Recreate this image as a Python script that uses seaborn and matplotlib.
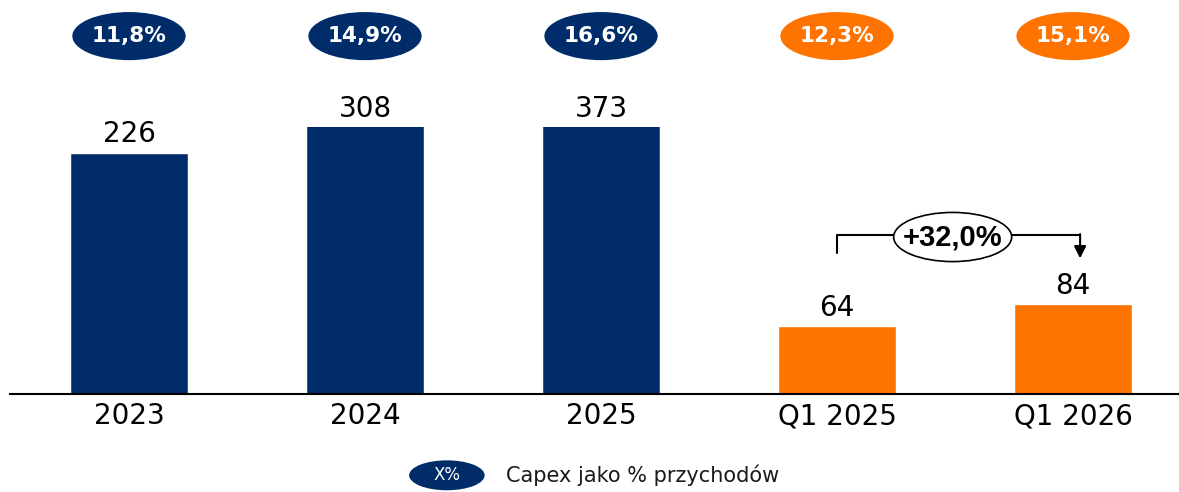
import matplotlib
matplotlib.use("Agg")
import matplotlib.pyplot as plt
import seaborn as sns
import pandas as pd
from matplotlib.patches import Ellipse

# Données
categories = ["2023", "2024", "2025", "Q1 2025", "Q1 2026"]
capex = [226, 308, 373, 64, 84]
capex_pct = ["11,8%", "14,9%", "16,6%", "12,3%", "15,1%"]
growth_label = "+32,0%"
legend_label = "Capex jako % przychodów"

navy = "#002D6A"
orange = "#FF7300"
colors = [navy, navy, navy, orange, orange]

df = pd.DataFrame({"Okres": categories, "Capex": capex})

sns.set_style("white")
plt.rcParams["font.family"] = ["DejaVu Sans"]
plt.rcParams["text.color"] = "black"
plt.rcParams["xtick.color"] = "black"

fig = plt.figure(figsize=(11.79, 4.92), dpi=100)
ax = fig.add_axes([0.0085, 0.199, 0.9915, 0.543])

sns.barplot(data=df, x="Okres", y="Capex", hue="Okres", palette=colors,
            legend=False, width=0.5, saturation=1, ax=ax)

y_cap = 250
ax.set_ylim(0, y_cap)
ax.set_xlim(-0.504, 4.449)

for s in ["top", "right", "left"]:
    ax.spines[s].set_visible(False)
ax.spines["bottom"].set_color("black")
ax.spines["bottom"].set_linewidth(1.5)
ax.set_yticks([])
ax.set_xlabel("")
ax.set_ylabel("")
ax.tick_params(axis="x", length=0, labelsize=20, pad=6, labelcolor="black")

# Etiquettes de valeur + ellipses en haut
for i, (v, p) in enumerate(zip(capex, capex_pct)):
    ax.text(i, min(v, y_cap) + 17, str(v), ha="center", va="center",
            fontsize=20, color="black", clip_on=False)
    ax.add_patch(Ellipse((i, 335), 0.48, 45, facecolor=colors[i],
                         edgecolor="none", clip_on=False))
    ax.text(i, 335, p, ha="center", va="center", fontsize=15.5,
            fontweight="bold", color="white", clip_on=False)

# Flèche de croissance Q1
ax.plot([3, 3, 3.8], [132, 149, 149], color="black", lw=1.5, clip_on=False)
ax.annotate("", xy=(4.03, 127), xytext=(4.03, 149.7),
            arrowprops=dict(arrowstyle="-|>", color="black", lw=1.5,
                            mutation_scale=18, shrinkA=0, shrinkB=0),
            annotation_clip=False)
ax.plot([3.8, 4.03], [149, 149], color="black", lw=1.5, clip_on=False)
ax.add_patch(Ellipse((3.49, 147), 0.5, 46, facecolor="white",
                     edgecolor="black", lw=1.2, clip_on=False, zorder=5))
ax.text(3.49, 147, growth_label, ha="center", va="center", fontsize=21,
        fontweight="bold", family="Liberation Sans", color="black",
        zorder=6, clip_on=False)

# Légende
ax.add_patch(Ellipse((1.347, -76), 0.32, 28, facecolor=navy,
                     edgecolor="none", clip_on=False))
ax.text(1.347, -76, "X%", ha="center", va="center", fontsize=12,
        color="white", clip_on=False)
ax.text(1.597, -76, legend_label, ha="left", va="center", fontsize=15,
        color="#1a1a1a", clip_on=False)

fig.savefig("out.png", dpi=100)
